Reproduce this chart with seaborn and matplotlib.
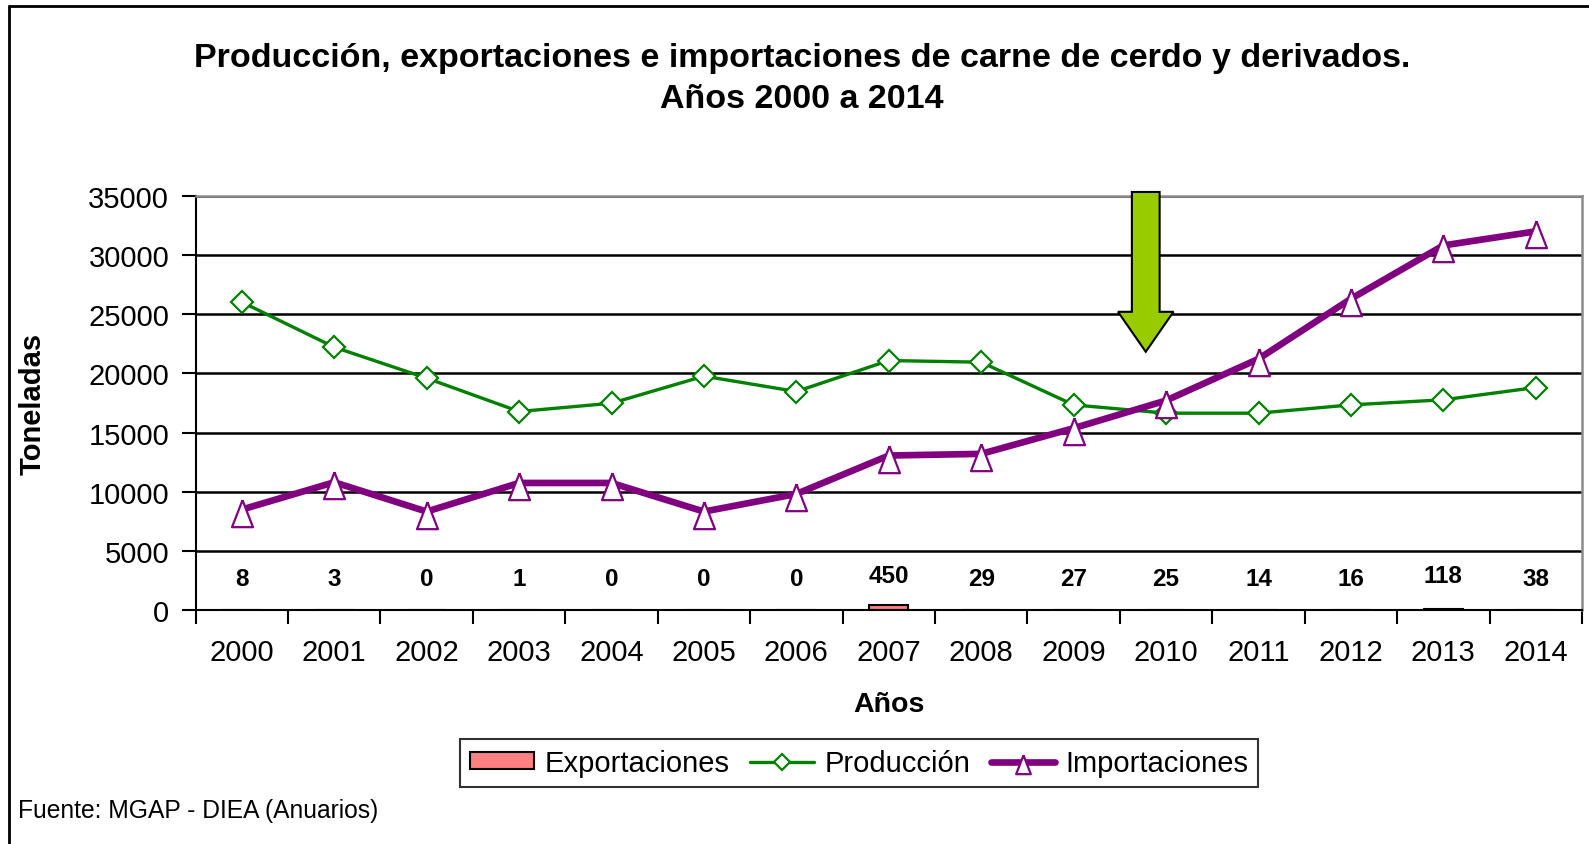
import numpy as np
import pandas as pd
import matplotlib
matplotlib.use("Agg")
import matplotlib.pyplot as plt
from matplotlib.lines import Line2D
from matplotlib.patches import Polygon
import seaborn as sns

# ── Data (toneladas) ─────────────────────────────────────────────────────────
years = [str(y) for y in range(2000, 2015)]
exportaciones = [8, 3, 0, 1, 0, 0, 0, 450, 29, 27, 25, 14, 16, 118, 38]
produccion = [26030, 22220, 19600, 16780, 17480, 19770, 18470, 21090,
              20950, 17340, 16640, 16640, 17340, 17770, 18810]
importaciones = [8490, 10800, 8320, 10740, 10740, 8320, 9810, 13060,
                 13200, 15370, 17710, 21230, 26310, 30820, 32010]
y_ticks = list(range(0, 35001, 5000))

df = pd.DataFrame({
    "year": years,
    "Exportaciones": exportaciones,
    "Producción": produccion,
    "Importaciones": importaciones,
})

GREEN = "#008000"
PURPLE = "#800080"
PINK = "#FF8080"
ARROW = "#99CC00"

sns.set_theme(style="white")
plt.rcParams["font.family"] = ["Liberation Sans", "DejaVu Sans"]
plt.rcParams.update({"text.color": "black", "axes.labelcolor": "black",
                     "xtick.color": "black", "ytick.color": "black"})

W, H = 1589, 845
fig = plt.figure(figsize=(W / 100, H / 100), dpi=100)
ax = fig.add_axes([195.6 / W, 1 - 611 / H, (1582 - 195.6) / W, (611 - 197) / H])

sns.barplot(data=df, x="year", y="Exportaciones", color=PINK, edgecolor="black",
            linewidth=1.5, width=0.42, saturation=1, label="Exportaciones", ax=ax)

sns.lineplot(data=df, x="year", y="Producción", color=GREEN, lw=2.4,
             marker="D", markersize=11.5, markerfacecolor="white",
             markeredgecolor=GREEN, markeredgewidth=1.6,
             label="Producción", ax=ax)

tri = [(0, 10.3), (-10.5, -16.7), (10.5, -16.7), (0, 10.3)]
sns.lineplot(data=df, x="year", y="Importaciones", color=PURPLE, lw=4.8,
             marker=tri, markersize=24, markerfacecolor="white",
             markeredgecolor=PURPLE, markeredgewidth=1.6,
             label="Importaciones", ax=ax)

# export value labels
for i, v in enumerate(exportaciones):
    ypos = 2950 if v > 100 else 2700
    ax.text(i, ypos, str(v), ha="center", va="center", fontsize=17.5,
            fontweight="bold", color="black")

# axes styling
ax.set_xlim(-0.5, len(years) - 0.5)
ax.set_ylim(0, 35000)
ax.set_yticks(y_ticks)
ax.set_yticklabels([str(t) for t in y_ticks])
ax.set_xticks(np.arange(-0.5, len(years), 1), minor=True)
ax.tick_params(axis="x", which="major", length=0, pad=20, labelsize=21)
ax.tick_params(axis="x", which="minor", length=10, width=1.5, direction="out",
               color="black", bottom=True)
ax.tick_params(axis="y", length=10, width=1.5, direction="out", color="black",
               left=True, pad=9, labelsize=21)
ax.yaxis.grid(True, color="black", lw=1.8)
ax.set_axisbelow(True)
for side in ["left", "bottom"]:
    ax.spines[side].set_color("black")
    ax.spines[side].set_linewidth(1.5)
for side in ["top", "right"]:
    ax.spines[side].set_color("#8C8C8C")
    ax.spines[side].set_linewidth(1.8)

ax.set_xlabel("Años", fontsize=20.5, fontweight="bold", labelpad=18)
ax.set_ylabel("Toneladas", fontsize=21, fontweight="bold", labelpad=30)
ax.get_legend().remove()

# highlight arrow
xc, sw, hw = 9.78, 0.15, 0.30
y_top, y_head, y_tip = 35340, 25210, 21830
arrow = Polygon([(xc - sw, y_top), (xc + sw, y_top), (xc + sw, y_head),
                 (xc + hw, y_head), (xc, y_tip), (xc - hw, y_head),
                 (xc - sw, y_head)], closed=True, facecolor=ARROW,
                edgecolor="black", lw=1.5, clip_on=False, zorder=5)
ax.add_patch(arrow)

# title
fig.text(802 / W, 1 - 58 / H,
         "Producción, exportaciones e importaciones de carne de cerdo y derivados.",
         ha="center", va="center", fontsize=24.5, fontweight="bold")
fig.text(802 / W, 1 - 99 / H, "Años 2000 a 2014", ha="center", va="center",
         fontsize=24.5, fontweight="bold")

# legend
handles, labels = ax.get_legend_handles_labels()
order = [labels.index(n) for n in ["Exportaciones", "Producción", "Importaciones"]]
leg = fig.legend([handles[i] for i in order], [labels[i] for i in order],
                 loc="center", bbox_to_anchor=(859 / W, 1 - 764 / H), ncol=3,
                 fontsize=21, frameon=True, fancybox=False, edgecolor="black",
                 handlelength=2.2, handleheight=0.5, handletextpad=0.35,
                 columnspacing=0.7, borderpad=0.35, markerscale=0.7)
leg.get_frame().set_linewidth(1.5)

# source
fig.text(18 / W, 1 - 811 / H, "Fuente: MGAP - DIEA (Anuarios)", ha="left",
         va="center", fontsize=17.7)

# outer frame (top and left edges visible)
fig.add_artist(Line2D([9 / W, 1], [1 - 7 / H, 1 - 7 / H], transform=fig.transFigure,
                      color="black", lw=2))
fig.add_artist(Line2D([9 / W, 9 / W], [0, 1 - 7 / H], transform=fig.transFigure,
                      color="black", lw=2))

fig.savefig("out.png", dpi=100)
